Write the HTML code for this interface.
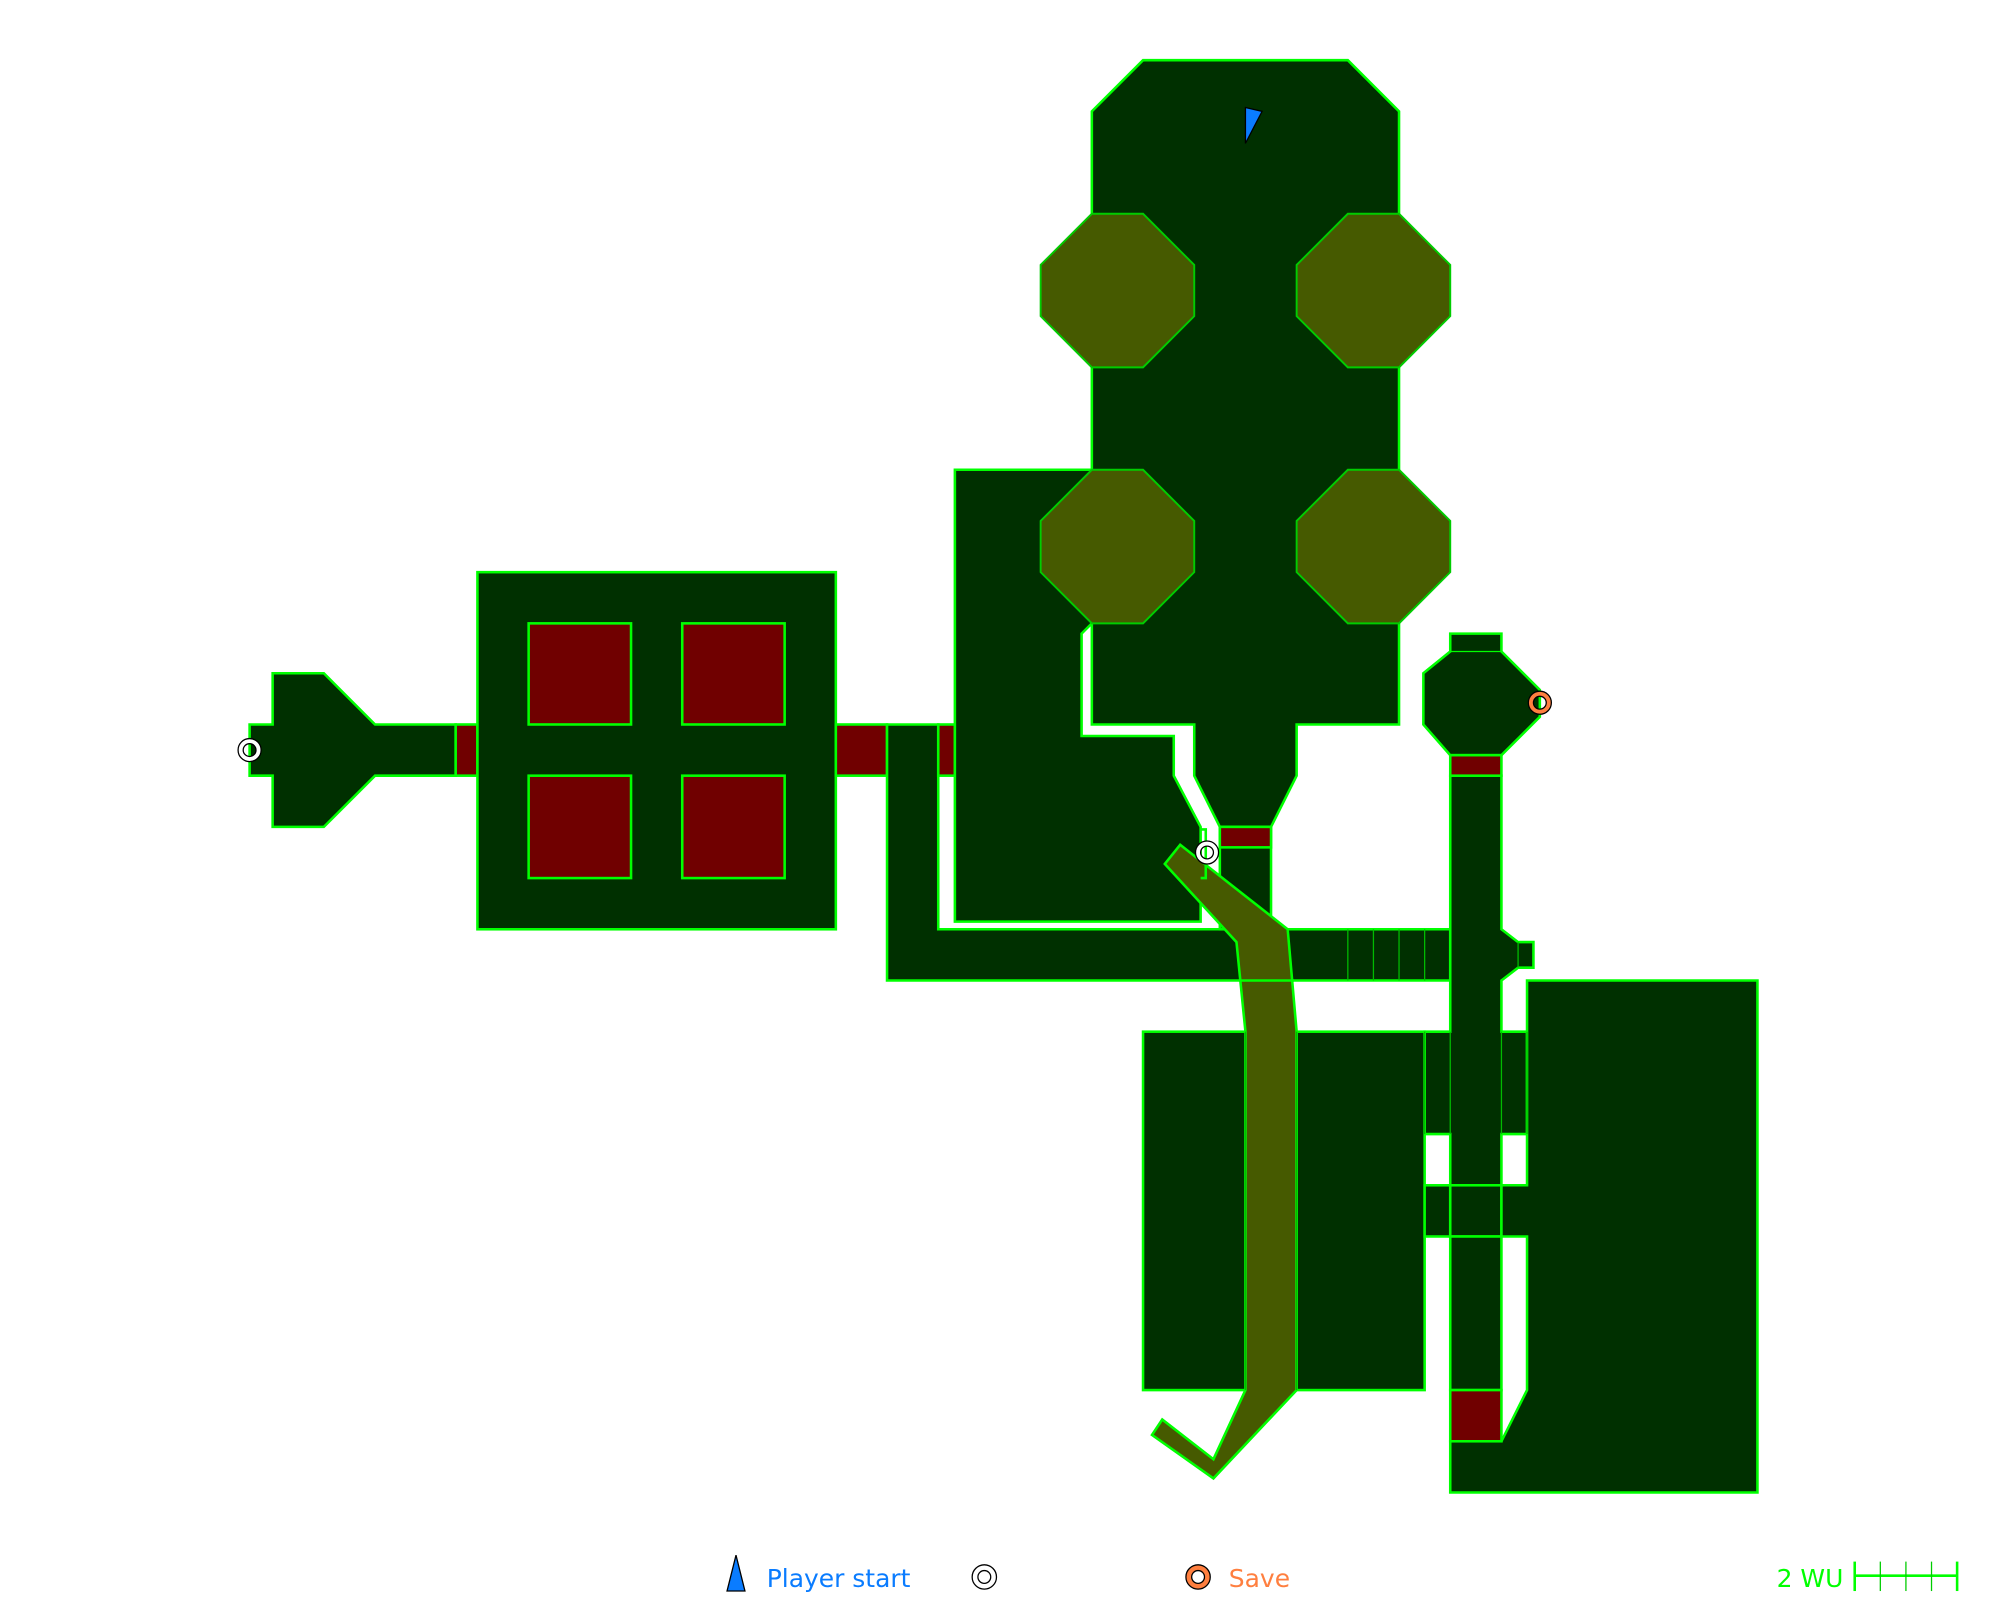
<!DOCTYPE html>
<html><head><meta charset="utf-8"><style>
html,body{margin:0;padding:0;background:#fff;}
svg{display:block;}
text{font-family:"DejaVu Sans","Liberation Sans",sans-serif;}
</style></head><body>
<svg width="2000" height="1600" viewBox="0 0 1562.5 1250" xmlns="http://www.w3.org/2000/svg">
<g fill="#003000" stroke="#00ff00" stroke-width="2" stroke-linejoin="miter">
<polygon points="195,566 213,566 213,526 253,526 293,566 356,566 356,606 293,606 253,646 213,646 213,606 195,606"/>
<rect x="356" y="566" width="17" height="40" fill="#700000"/>
<rect x="373" y="447" width="280" height="279"/>
<rect x="653" y="566" width="40" height="40" fill="#700000"/>
<polygon points="693,566 733,566 733,726 1133,726 1133,766 693,766"/>
<rect x="733" y="566" width="13" height="40" fill="#700000"/>
<polygon points="746,367 853,367 853,487 845,495 845,575 917,575 917,606 938,646 938,720 746,720"/>
<polygon points="893,47 1053,47 1093,87 1093,566 1013,566 1013,606 993,646 953,646 933,606 933,566 853,566 853,87"/>
<rect x="953" y="646" width="40" height="80"/>
<rect x="953" y="646" width="40" height="16" fill="#700000"/>
<polygon points="1133,495 1173,495 1173,509 1203,539 1203,560 1173,590 1133,590 1112,566 1112,526 1133,509"/>
<line x1="1133" y1="509" x2="1173" y2="509" stroke-width="1"/>
<polygon points="1133,606 1173,606 1173,726 1186,736 1198,736 1198,756 1186,756 1173,766 1173,806 1193,806 1193,886 1173,886 1173,926 1133,926 1133,886 1113,886 1113,806 1133,806 1133,766"/>
<rect x="1133" y="590" width="40" height="16" fill="#700000"/>
<rect x="893" y="806" width="220" height="280"/>
<rect x="1113" y="926" width="20" height="40"/>
<rect x="1133" y="926" width="40" height="40"/>
<polygon points="1193,766 1373,766 1373,1166 1133,1166 1133,1126 1173,1126 1193,1086 1193,966 1173,966 1173,926 1193,926"/>
<rect x="1133" y="966" width="40" height="120"/>
<rect x="1133" y="1086" width="40" height="40" fill="#700000"/>
</g>
<g fill="#700000" stroke="#00ff00" stroke-width="2">
<rect x="413" y="487" width="80" height="79"/>
<rect x="533" y="487" width="80" height="79"/>
<rect x="413" y="606" width="80" height="80"/>
<rect x="533" y="606" width="80" height="80"/>
</g>
<g stroke="#00bb00" stroke-width="1">
<line x1="1053" y1="726" x2="1053" y2="766"/><line x1="1073" y1="726" x2="1073" y2="766"/>
<line x1="1093" y1="726" x2="1093" y2="766"/><line x1="1113" y1="726" x2="1113" y2="766"/>
<line x1="1113" y1="806" x2="1113" y2="886"/><line x1="1133" y1="806" x2="1133" y2="886"/>
<line x1="1173" y1="806" x2="1173" y2="886"/><line x1="1193" y1="806" x2="1193" y2="886"/>
<line x1="1186" y1="736" x2="1186" y2="756"/>
</g>
<g fill="#465a00" stroke="#00cc00" stroke-width="1.5">
<polygon points="853,167 893,167 933,207 933,247 893,287 853,287 813,247 813,207"/>
<polygon points="1053,167 1093,167 1133,207 1133,247 1093,287 1053,287 1013,247 1013,207"/>
<polygon points="853,367 893,367 933,407 933,447 893,487 853,487 813,447 813,407"/>
<polygon points="1053,367 1093,367 1133,407 1133,447 1093,487 1053,487 1013,447 1013,407"/>
</g>
<polygon points="922,660 1006,726 1013,806 1013,1086 948,1155 900,1121 908,1109 948,1140 973,1086 973,806 966,736 910,675" fill="#465a00" stroke="#00ff00" stroke-width="2"/>
<g stroke="#00bb00" stroke-width="1"><line x1="973" y1="806" x2="973" y2="1086"/><line x1="1013" y1="806" x2="1013" y2="1086"/></g>
<g stroke="#00ff00" stroke-width="2" fill="none">
<line x1="968" y1="766" x2="1011" y2="766"/>
<polyline points="938,648 942,648 942,686 938,686"/>
</g>
<path d="M186,586a9,9 0 1,0 18,0a9,9 0 1,0 -18,0ZM190,586a5,5 0 1,1 10,0a5,5 0 1,1 -10,0Z" fill="#fff" fill-rule="evenodd" stroke="#000" stroke-width="1"/>
<path d="M934,666a9,9 0 1,0 18,0a9,9 0 1,0 -18,0ZM938,666a5,5 0 1,1 10,0a5,5 0 1,1 -10,0Z" fill="#fff" fill-rule="evenodd" stroke="#000" stroke-width="1"/>
<path d="M1194,549a9,9 0 1,0 18,0a9,9 0 1,0 -18,0ZM1198,549a5,5 0 1,1 10,0a5,5 0 1,1 -10,0Z" fill="#ff7f3f" fill-rule="evenodd" stroke="#000" stroke-width="1"/>
<polygon points="973,84 986,87 973,112" fill="#0a7cff" stroke="#000" stroke-width="1"/>
<polygon points="575,1215 582,1243 568,1243" fill="#0a7cff" stroke="#000" stroke-width="1"/>
<text x="599" y="1240" font-size="19.5" fill="#0a7cff">Player start</text>
<circle cx="769" cy="1232" r="9.5" fill="#fff" stroke="#000" stroke-width="1"/>
<circle cx="769" cy="1232" r="5" fill="#fff" stroke="#000" stroke-width="1"/>
<circle cx="936" cy="1232" r="9.5" fill="#ff7f3f" stroke="#000" stroke-width="1"/>
<circle cx="936" cy="1232" r="5" fill="#fff" stroke="#000" stroke-width="1"/>
<text x="960" y="1240" font-size="19.5" fill="#ff7f3f">Save</text>
<text x="1388" y="1240" font-size="19.5" fill="#00ff00">2 WU</text>
<g stroke="#00ff00" stroke-width="2">
<line x1="1449" y1="1231" x2="1529" y2="1231"/>
<line x1="1449" y1="1220" x2="1449" y2="1243"/>
<line x1="1529" y1="1220" x2="1529" y2="1243"/>
</g>
<g stroke="#00cc00" stroke-width="1">
<line x1="1469" y1="1220" x2="1469" y2="1243"/>
<line x1="1489" y1="1220" x2="1489" y2="1243"/>
<line x1="1509" y1="1220" x2="1509" y2="1243"/>
</g>
</svg>
</body></html>
